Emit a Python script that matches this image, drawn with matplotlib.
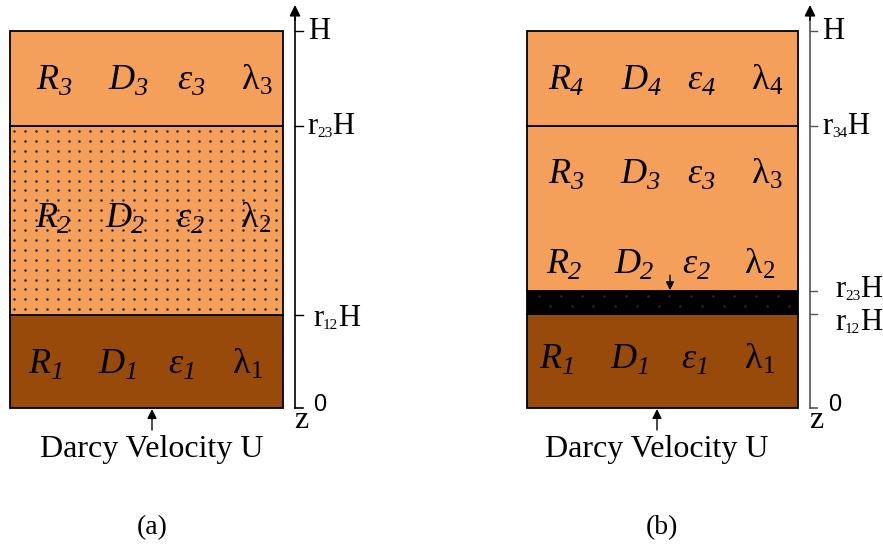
"""Two layered-column sketches: (a) three layers, (b) four layers with a thin dark band."""

import matplotlib
matplotlib.use("Agg")
import matplotlib.pyplot as plt
from matplotlib.patches import Rectangle
import numpy as np

SERIF = "Liberation Serif"
SANS = "Liberation Sans"
LIGHT = "#f5a05a"
BROWN = "#974a0a"

# interfaces as fractions of the column height H (z = 0 at the bottom)
a_interfaces = [0.0, 0.247, 0.748, 1.0]
a_fills = ["brown", "dots", "light"]
a_ticks = [1.0, 0.748, 0.247]
a_tick_labels = ["H", "r23H", "r12H"]

b_interfaces = [0.0, 0.249, 0.31, 0.748, 1.0]
b_fills = ["brown", "black", "light", "light"]
b_ticks = [1.0, 0.748, 0.31, 0.249]
b_tick_labels = ["H", "r34H", "r23H", "r12H"]

# label rows: layer index and baseline height (fraction of H)
a_rows = [(3, 0.846), (2, 0.480), (1, 0.093)]
b_rows = [(4, 0.846), (3, 0.597), (2, 0.358), (1, 0.106)]
symbols = ["R", "D", "\u03b5", "\u03bb"]

# pixel layout
Z0, ZH = 408, 31
A_BOX, A_AXIS = (10, 283), 295
B_BOX, B_AXIS = (527, 798), 810
a_cols = [[54, 128, 191, 257], [53, 125, 190, 256], [46, 118, 182, 248]]
b_cols = [[566, 641, 701, 767], [566, 640, 701, 767], [564, 634, 696, 760], [557, 630, 695, 760]]


def zy(frac):
    return Z0 - frac * (Z0 - ZH)


fig = plt.figure(figsize=(8.83, 5.48), dpi=100)
ax = fig.add_axes([0, 0, 1, 1])
ax.set_xlim(0, 883); ax.set_ylim(548, 0); ax.axis("off")
renderer = fig.canvas.get_renderer()


def run(x, y, pieces, family=SERIF):
    texts = [ax.text(0, y + dy, s, fontsize=size, style=style, family=family, va="baseline", ha="left") for s, size, style, dy in pieces]
    widths = [t.get_window_extent(renderer).width for t in texts]
    start = x - sum(widths) / 2
    for t, w in zip(texts, widths):
        t.set_x(start); start += w


def run_left(x, y, pieces):
    for s, size, style, dy in pieces:
        t = ax.text(x, y + dy, s, fontsize=size, style=style, family=SERIF, va="baseline", ha="left")
        x += t.get_window_extent(renderer).width


def column(box, interfaces, fills):
    x0, x1 = box
    for lo, hi, fill in zip(interfaces[:-1], interfaces[1:], fills):
        top, bot = zy(hi), zy(lo)
        face = {"brown": BROWN, "light": LIGHT, "dots": LIGHT, "black": "black"}[fill]
        ax.add_patch(Rectangle((x0, top), x1 - x0, bot - top, facecolor=face, edgecolor="black", lw=1.3, zorder=1))
        if fill == "dots":
            gx, gy = np.meshgrid(np.arange(x0 + 4, x1 - 2, 10.9), np.arange(top + 5, bot - 2, 9.9))
            ax.scatter(gx.ravel(), gy.ravel(), s=3.2, c="#262626", linewidths=0, zorder=2)
        elif fill == "black":
            for k, yy in enumerate(np.arange(top + 5, bot - 2, 9.5)):
                xs = np.arange(x0 + 12 + (k % 2) * 11, x1 - 2, 21.7)
                ax.scatter(xs, np.full_like(xs, yy), s=4, c="#242424", linewidths=0, zorder=2)


def labels(rows, cols):
    for (idx, frac), xs in zip(rows, cols):
        y = zy(frac)
        for sym, x in zip(symbols, xs):
            if sym == "\u03bb":
                run(x, y, [(sym, 26, "normal", 0), (str(idx), 18, "normal", 5)])
            else:
                run(x, y, [(sym, 26, "italic", 0), (str(idx), 19, "italic", 6)])


def zaxis(axis_x, ticks, tick_labels, color, tick_len, offsets):
    ax.plot([axis_x, axis_x], [Z0, 18], color=color, lw=1.2, zorder=3)
    ax.annotate("", xy=(axis_x, 5), xytext=(axis_x, 20), arrowprops=dict(arrowstyle="-|>", color="black", lw=1.2, mutation_scale=16, shrinkA=0, shrinkB=0))
    ax.plot([axis_x, axis_x + tick_len], [Z0, Z0], color=color, lw=1.2)
    ax.text(axis_x + 18, Z0 - 3, "0", fontsize=17, family=SANS, ha="left", va="center")
    ax.text(axis_x - 1, Z0 + 20, "z", fontsize=23, family=SERIF, ha="left", va="baseline")
    for frac, lab, (dx, dy) in zip(ticks, tick_labels, offsets):
        y = zy(frac)
        ax.plot([axis_x, axis_x + tick_len], [y, y], color=color, lw=1.0)
        if lab == "H":
            pieces = [("H", 22, "normal", 0)]
        else:
            pieces = [("r", 22, "normal", 0), (lab[1:3], 11, "normal", 3), ("H", 22, "normal", 0)]
        run_left(axis_x + dx, y + 8 + dy, pieces)


column(A_BOX, a_interfaces, a_fills)
column(B_BOX, b_interfaces, b_fills)
labels(a_rows, a_cols)
labels(b_rows, b_cols)
zaxis(A_AXIS, a_ticks, a_tick_labels, "black", 8, [(13, 0), (12, 0), (18, 3)])
zaxis(B_AXIS, b_ticks, b_tick_labels, "#555555", 7, [(12, 0), (12, 0), (25, -2), (25, 8)])

# flow arrows and captions
for cx in (152, 657):
    ax.annotate("", xy=(cx, Z0 + 1), xytext=(cx, Z0 + 22), arrowprops=dict(arrowstyle="-|>", color="black", lw=1.0, mutation_scale=14, shrinkA=0, shrinkB=0))
    ax.text(cx, 457, "Darcy Velocity U", fontsize=23, family=SERIF, ha="center", va="baseline")
ax.annotate("", xy=(670, zy(0.31) - 1), xytext=(670, zy(0.31) - 16), arrowprops=dict(arrowstyle="-|>", color="black", lw=1.0, mutation_scale=12, shrinkA=0, shrinkB=0))
ax.text(152, 534, "(a)", fontsize=20, family=SERIF, ha="center", va="baseline")
ax.text(662, 534, "(b)", fontsize=20, family=SERIF, ha="center", va="baseline")

fig.savefig("out.png", dpi=100)
